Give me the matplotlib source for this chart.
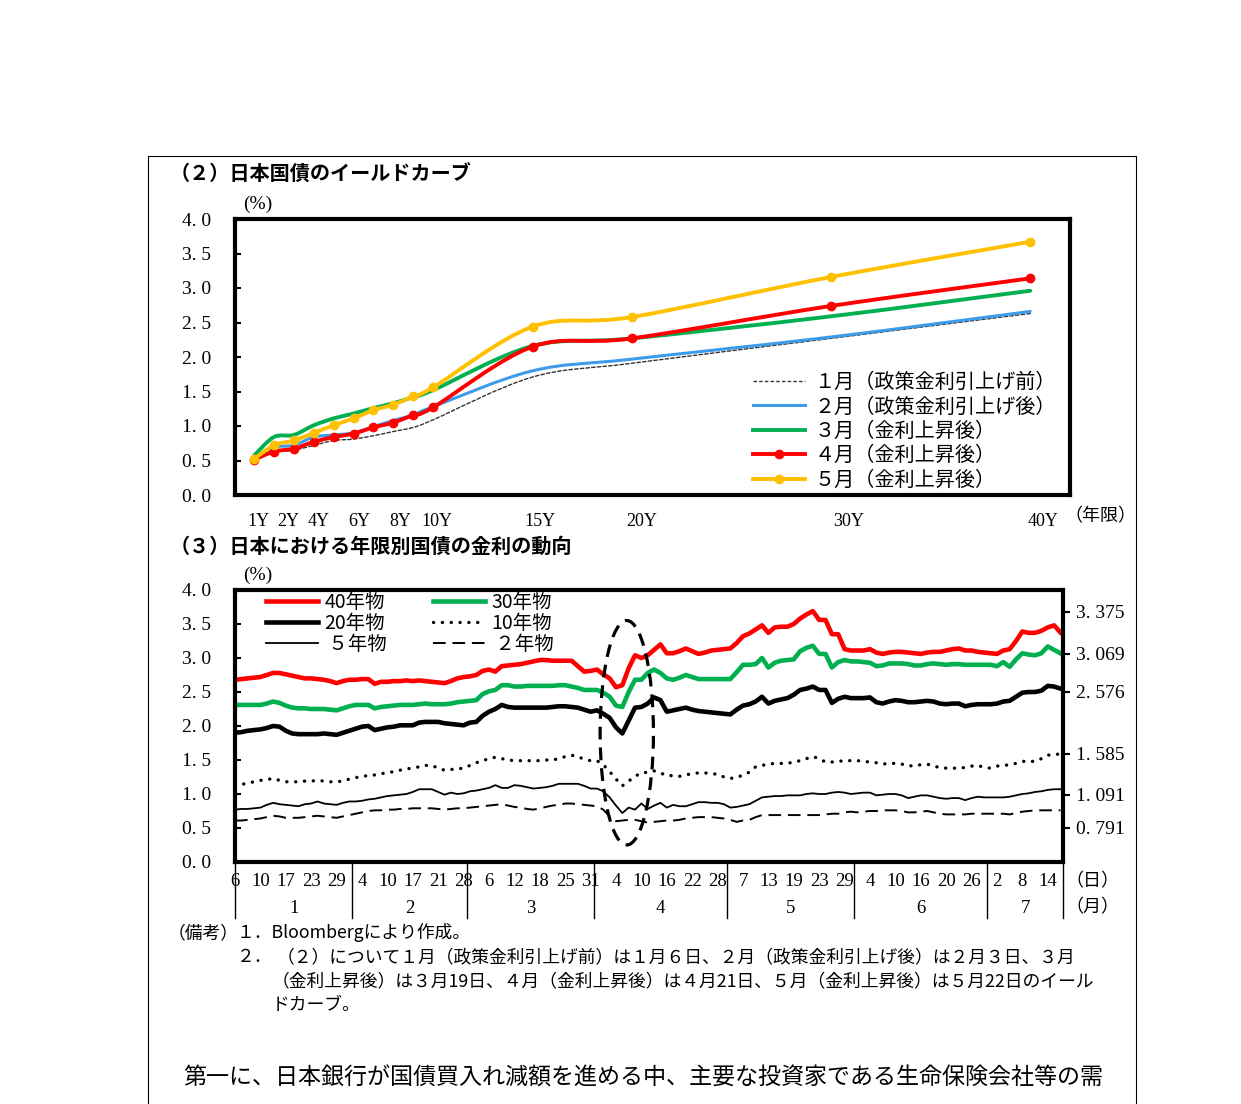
import numpy as np
import matplotlib.pyplot as plt
import matplotlib.transforms as mtransforms
from matplotlib.path import Path
from matplotlib.patches import PathPatch, Ellipse
from matplotlib.lines import Line2D

W, H = 1241, 1104
JP = ['Noto Sans CJK JP', 'DejaVu Sans']
SERIF = ['Liberation Serif', 'DejaVu Serif']

# ---------------------------------------------------------
# (2) yield curve data
# ---------------------------------------------------------
maturity = [1, 2, 3, 4, 5, 6, 7, 8, 9, 10, 15, 20, 30, 40]
curve_jan = [0.50, 0.62, 0.65, 0.72, 0.79, 0.81, 0.86, 0.92, 0.98, 1.09, 1.71, 1.91, 2.27, 2.63]
curve_feb = [0.52, 0.69, 0.72, 0.84, 0.87, 0.90, 0.99, 1.08, 1.16, 1.28, 1.80, 1.97, 2.29, 2.66]
curve_mar = [0.57, 0.84, 0.87, 1.01, 1.11, 1.18, 1.26, 1.33, 1.42, 1.52, 2.16, 2.27, 2.59, 2.96]
curve_apr = [0.51, 0.63, 0.67, 0.77, 0.84, 0.89, 0.98, 1.05, 1.16, 1.27, 2.15, 2.27, 2.74, 3.14]
curve_may = [0.52, 0.72, 0.79, 0.90, 1.01, 1.11, 1.23, 1.31, 1.43, 1.56, 2.44, 2.58, 3.16, 3.67]
curve_labels = ['１月（政策金利引上げ前）', '２月（政策金利引上げ後）', '３月（金利上昇後）',
                '４月（金利上昇後）', '５月（金利上昇後）']
mat_ticklabels = ['1Y', '2Y', '4Y', '6Y', '8Y', '10Y', '15Y', '20Y', '30Y', '40Y']
mat_tickpos = [1.2, 2.7, 4.25, 6.3, 8.35, 10.2, 15.35, 20.5, 30.85, 40.65]

# ---------------------------------------------------------
# (3) daily JGB yields, business days 2025/1/6 - 7/16
# ---------------------------------------------------------
jan_days = [6, 7, 8, 9, 10, 14, 15, 16, 17, 20, 21, 22, 23, 24, 27, 28, 29, 30, 31]
feb_days = [3, 4, 5, 6, 7, 10, 12, 13, 14, 17, 18, 19, 20, 21, 25, 26, 27, 28]
mar_days = [3, 4, 5, 6, 7, 10, 11, 12, 13, 14, 17, 18, 19, 21, 24, 25, 26, 27, 28, 31]
apr_days = [1, 2, 3, 4, 7, 8, 9, 10, 11, 14, 15, 16, 17, 18, 21, 22, 23, 24, 25, 28, 30]
may_days = [1, 2, 7, 8, 9, 12, 13, 14, 15, 16, 19, 20, 21, 22, 23, 26, 27, 28, 29, 30]
jun_days = [2, 3, 4, 5, 6, 9, 10, 11, 12, 13, 16, 17, 18, 19, 20, 23, 24, 25, 26, 27, 30]
jul_days = [1, 2, 3, 4, 7, 8, 9, 10, 11, 14, 15, 16]
month_days = [jan_days, feb_days, mar_days, apr_days, may_days, jun_days, jul_days]
month_names = ['1', '2', '3', '4', '5', '6', '7']

y40 = [2.68, 2.69, 2.70, 2.71, 2.72, 2.75, 2.78, 2.78, 2.76, 2.74, 2.72, 2.70, 2.70, 2.69, 2.68, 2.66, 2.63, 2.66, 2.68, 2.68,
       2.69, 2.69, 2.62, 2.65, 2.65, 2.66, 2.66, 2.67, 2.66, 2.67, 2.66, 2.65, 2.64, 2.63, 2.66, 2.70, 2.72, 2.73, 2.75, 2.81,
       2.83, 2.80, 2.88, 2.89, 2.90, 2.91, 2.93, 2.95, 2.97, 2.97, 2.96, 2.96, 2.96, 2.96, 2.88, 2.80, 2.81, 2.83, 2.76, 2.70,
       2.57, 2.60, 2.85, 3.04, 3.00, 3.04, 3.12, 3.20, 3.07, 3.07, 3.10, 3.14, 3.10, 3.06, 3.08, 3.11, 3.12, 3.13, 3.14, 3.22,
       3.32, 3.36, 3.42, 3.48, 3.37, 3.45, 3.46, 3.46, 3.50, 3.58, 3.64, 3.69, 3.56, 3.56, 3.35, 3.35, 3.13, 3.11, 3.11, 3.11,
       3.13, 3.08, 3.06, 3.08, 3.09, 3.09, 3.08, 3.07, 3.06, 3.08, 3.09, 3.09, 3.11, 3.13, 3.14, 3.11, 3.11, 3.09, 3.08, 3.07,
       3.06, 3.11, 3.13, 3.25, 3.39, 3.37, 3.37, 3.40, 3.45, 3.48, 3.375]
y30 = [2.31, 2.31, 2.31, 2.31, 2.31, 2.33, 2.36, 2.34, 2.30, 2.27, 2.26, 2.26, 2.25, 2.25, 2.25, 2.24, 2.23, 2.26, 2.29, 2.31,
       2.31, 2.31, 2.26, 2.28, 2.29, 2.30, 2.31, 2.31, 2.31, 2.32, 2.33, 2.32, 2.32, 2.32, 2.33, 2.35, 2.36, 2.37, 2.38, 2.47,
       2.51, 2.53, 2.60, 2.60, 2.58, 2.58, 2.59, 2.59, 2.59, 2.59, 2.59, 2.60, 2.60, 2.58, 2.56, 2.53, 2.53, 2.53, 2.49, 2.43,
       2.30, 2.28, 2.50, 2.68, 2.68, 2.78, 2.83, 2.78, 2.70, 2.68, 2.71, 2.75, 2.72, 2.69, 2.69, 2.69, 2.69, 2.69, 2.69, 2.79,
       2.90, 2.90, 2.91, 3.00, 2.86, 2.93, 2.96, 2.97, 2.98, 3.10, 3.15, 3.18, 3.06, 3.06, 2.86, 2.94, 2.97, 2.95, 2.95, 2.94,
       2.93, 2.88, 2.89, 2.92, 2.92, 2.92, 2.91, 2.89, 2.89, 2.91, 2.92, 2.91, 2.90, 2.91, 2.91, 2.90, 2.90, 2.90, 2.90, 2.90,
       2.88, 2.94, 2.87, 2.98, 3.07, 3.05, 3.04, 3.07, 3.17, 3.12, 3.069]
y20 = [1.90, 1.91, 1.93, 1.94, 1.95, 1.97, 2.00, 1.99, 1.93, 1.89, 1.88, 1.88, 1.88, 1.88, 1.89, 1.88, 1.87, 1.90, 1.93, 1.96,
       1.99, 2.00, 1.94, 1.96, 1.98, 1.99, 2.01, 2.01, 2.01, 2.05, 2.06, 2.06, 2.06, 2.04, 2.03, 2.02, 2.01, 2.05, 2.06, 2.15,
       2.21, 2.25, 2.31, 2.28, 2.27, 2.27, 2.27, 2.27, 2.27, 2.27, 2.28, 2.29, 2.29, 2.28, 2.27, 2.24, 2.21, 2.23, 2.18, 2.12,
       1.98, 1.89, 2.08, 2.27, 2.28, 2.33, 2.42, 2.38, 2.21, 2.23, 2.25, 2.27, 2.24, 2.22, 2.21, 2.20, 2.19, 2.18, 2.17, 2.24,
       2.30, 2.32, 2.36, 2.43, 2.33, 2.37, 2.39, 2.41, 2.46, 2.53, 2.55, 2.58, 2.53, 2.53, 2.34, 2.40, 2.43, 2.41, 2.41, 2.41,
       2.42, 2.35, 2.33, 2.36, 2.38, 2.37, 2.35, 2.35, 2.36, 2.37, 2.36, 2.33, 2.32, 2.33, 2.33, 2.29, 2.31, 2.32, 2.32, 2.32,
       2.33, 2.36, 2.37, 2.43, 2.49, 2.50, 2.50, 2.52, 2.59, 2.58, 2.55]
y10 = [1.12, 1.14, 1.16, 1.18, 1.20, 1.21, 1.23, 1.20, 1.18, 1.18, 1.18, 1.19, 1.19, 1.20, 1.19, 1.18, 1.18, 1.19, 1.22, 1.24,
       1.26, 1.27, 1.28, 1.30, 1.31, 1.33, 1.35, 1.37, 1.38, 1.40, 1.42, 1.42, 1.38, 1.35, 1.36, 1.37, 1.38, 1.42, 1.46, 1.49,
       1.52, 1.54, 1.52, 1.50, 1.49, 1.49, 1.49, 1.49, 1.49, 1.50, 1.50, 1.52, 1.55, 1.57, 1.55, 1.51, 1.49, 1.49, 1.43, 1.33,
       1.22, 1.12, 1.19, 1.26, 1.31, 1.32, 1.34, 1.31, 1.27, 1.27, 1.26, 1.28, 1.30, 1.31, 1.31, 1.30, 1.29, 1.25, 1.23, 1.24,
       1.28, 1.32, 1.40, 1.42, 1.44, 1.45, 1.45, 1.45, 1.47, 1.49, 1.52, 1.55, 1.52, 1.47, 1.47, 1.48, 1.49, 1.49, 1.49, 1.48,
       1.47, 1.46, 1.44, 1.45, 1.45, 1.44, 1.41, 1.42, 1.43, 1.44, 1.41, 1.39, 1.38, 1.38, 1.38, 1.39, 1.41, 1.42, 1.39, 1.38,
       1.41, 1.42, 1.43, 1.45, 1.48, 1.48, 1.48, 1.52, 1.57, 1.585, 1.585]
y5 = [0.77, 0.78, 0.78, 0.79, 0.80, 0.84, 0.87, 0.85, 0.84, 0.83, 0.82, 0.85, 0.86, 0.89, 0.86, 0.85, 0.84, 0.87, 0.89, 0.89,
      0.90, 0.92, 0.93, 0.95, 0.97, 0.98, 0.99, 1.00, 1.03, 1.07, 1.07, 1.07, 1.03, 0.99, 1.02, 1.00, 1.01, 1.04, 1.05, 1.07,
      1.09, 1.13, 1.09, 1.09, 1.13, 1.12, 1.10, 1.08, 1.09, 1.10, 1.12, 1.15, 1.15, 1.15, 1.15, 1.12, 1.08, 1.08, 1.04, 0.95,
      0.83, 0.72, 0.80, 0.77, 0.86, 0.78, 0.83, 0.87, 0.80, 0.84, 0.82, 0.82, 0.85, 0.88, 0.88, 0.87, 0.87, 0.85, 0.80, 0.81,
      0.83, 0.85, 0.90, 0.95, 0.96, 0.97, 0.97, 0.98, 0.98, 0.98, 1.00, 1.01, 1.00, 1.00, 1.02, 1.03, 1.02, 1.00, 1.01, 1.02,
      1.02, 0.98, 0.99, 1.00, 1.00, 0.98, 0.94, 0.96, 0.98, 0.98, 0.96, 0.94, 0.93, 0.94, 0.94, 0.91, 0.94, 0.96, 0.95, 0.95,
      0.95, 0.95, 0.96, 0.98, 1.00, 1.01, 1.03, 1.04, 1.06, 1.07, 1.07]
y2 = [0.61, 0.61, 0.62, 0.63, 0.64, 0.66, 0.68, 0.67, 0.65, 0.65, 0.65, 0.66, 0.67, 0.68, 0.67, 0.66, 0.65, 0.67, 0.69, 0.71,
      0.73, 0.75, 0.76, 0.76, 0.77, 0.77, 0.78, 0.78, 0.79, 0.79, 0.79, 0.79, 0.78, 0.77, 0.78, 0.79, 0.79, 0.80, 0.81, 0.82,
      0.83, 0.84, 0.85, 0.83, 0.81, 0.80, 0.78, 0.77, 0.79, 0.81, 0.83, 0.84, 0.86, 0.86, 0.85, 0.84, 0.83, 0.82, 0.77, 0.67,
      0.60, 0.61, 0.62, 0.62, 0.60, 0.58, 0.59, 0.60, 0.61, 0.61, 0.62, 0.64, 0.65, 0.66, 0.66, 0.66, 0.65, 0.64, 0.62, 0.59,
      0.61, 0.62, 0.66, 0.69, 0.69, 0.69, 0.69, 0.69, 0.69, 0.69, 0.69, 0.69, 0.69, 0.70, 0.71, 0.71, 0.73, 0.74, 0.73, 0.74,
      0.75, 0.75, 0.76, 0.76, 0.76, 0.75, 0.73, 0.73, 0.74, 0.75, 0.73, 0.71, 0.70, 0.70, 0.70, 0.70, 0.71, 0.71, 0.71, 0.71,
      0.71, 0.71, 0.70, 0.72, 0.74, 0.75, 0.76, 0.76, 0.76, 0.76, 0.76]
latest_labels = ['3. 375', '3. 069', '2. 576', '1. 585', '1. 091', '0. 791']
latest_label_pos = [3.68, 3.06, 2.50, 1.59, 0.99, 0.50]


def px(x, y):
    return x / W, 1 - y / H


def smooth_path(x, y):
    # Excel-like smoothed line (Catmull-Rom -> cubic Bezier)
    n = len(x)
    verts = [(x[0], y[0])]
    codes = [Path.MOVETO]
    for k in range(n - 1):
        xp, yp = (x[k - 1], y[k - 1]) if k > 0 else (x[k], y[k])
        xn, yn = (x[k + 2], y[k + 2]) if k + 2 < n else (x[k + 1], y[k + 1])
        verts.append((x[k] + (x[k + 1] - xp) / 6, y[k] + (y[k + 1] - yp) / 6))
        verts.append((x[k + 1] - (xn - x[k]) / 6, y[k + 1] - (yn - y[k]) / 6))
        verts.append((x[k + 1], y[k + 1]))
        codes += [Path.CURVE4] * 3
    return Path(verts, codes)


def style_frame(ax):
    for s in ax.spines.values():
        s.set_linewidth(3)
    ax.set_ylim(0, 4)
    ax.set_yticks(np.arange(0, 4.01, 0.5))
    ax.set_yticklabels(['%d. %d' % (int(v), round(v * 10) % 10) for v in np.arange(0, 4.01, 0.5)],
                       family=SERIF, fontsize=14)
    ax.tick_params(axis='y', direction='in', length=4, width=1.5, pad=17)


fig = plt.figure(figsize=(W / 100, H / 100), dpi=100)

# outer page frame
fig.add_artist(Line2D([148 / W, 148 / W, 1136 / W, 1136 / W], [0, 1 - 156 / H, 1 - 156 / H, 0],
                      transform=fig.transFigure, color='black', lw=0.8))

# ---------------------------------------------------------
# (2) yield curve
# ---------------------------------------------------------
l, b = px(235, 495)
ax1 = fig.add_axes([l, b, (1070 - 235) / W, (495 - 219) / H])
style_frame(ax1)
ax1.set_xlim(0.045, 42.0)

curve_styles = [
    (curve_jan, '#333333', 1.0, (0, (2.5, 1.6)), None),
    (curve_feb, '#3D9BE9', 2.2, '-', None),
    (curve_mar, '#00B050', 2.8, '-', None),
    (curve_apr, '#FF0000', 2.8, '-', 'o'),
    (curve_may, '#FFC000', 2.8, '-', 'o'),
]
handles = []
for (vals, col, lw, ls, mk), lab in zip(curve_styles, curve_labels):
    ax1.add_patch(PathPatch(smooth_path(maturity, vals), facecolor='none', edgecolor=col,
                            lw=lw, linestyle=ls, capstyle='round'))
    if mk:
        ax1.plot(maturity, vals, linestyle='none', marker=mk, color=col, markersize=6)
    handles.append(Line2D([], [], color=col, lw=lw, linestyle=ls, marker=mk, markersize=6))

ax1.set_xticks(mat_tickpos)
ax1.set_xticklabels(mat_ticklabels, family=SERIF, fontsize=13)
ax1.tick_params(axis='x', length=0, pad=13)
ax1.legend(handles, curve_labels, loc='upper left', bbox_to_anchor=px(753, 372),
           bbox_transform=fig.transFigure, frameon=False, prop={'family': JP, 'size': 14.5},
           handlelength=2.6, handletextpad=0.45, labelspacing=0.17, borderpad=0, borderaxespad=0)

fig.text(*px(170, 174), '（２）日本国債のイールドカーブ', family=JP, fontsize=14.5,
         fontweight='bold', va='center', ha='left')
fig.text(*px(258, 204), '(%)', family=SERIF, fontsize=14, va='center', ha='center')
fig.text(*px(1100, 516), '（年限）', family=JP, fontsize=13, va='center', ha='center')

# ---------------------------------------------------------
# (3) daily yields
# ---------------------------------------------------------
l, b = px(235, 862)
ax2 = fig.add_axes([l, b, (1063 - 235) / W, (862 - 590) / H])
style_frame(ax2)
idx = np.arange(len(y40))
ax2.set_xlim(0, 130.4)
ax2.set_xticks([])

series = [
    (y40, '40年物', dict(color='#FF0000', lw=3.3)),
    (y20, '20年物', dict(color='black', lw=3.3)),
    (y5, ' ５年物', dict(color='black', lw=1.3)),
    (y30, '30年物', dict(color='#00B050', lw=3.3)),
    (y10, '10年物', dict(color='black', lw=2.4, linestyle=(0, (0.05, 2.6)), dash_capstyle='round')),
    (y2, ' ２年物', dict(color='black', lw=1.4, linestyle=(0, (6.5, 3.5)))),
]
draw_order = [3, 0, 1, 4, 2, 5]
lines = {}
for k in draw_order:
    vals, lab, kw = series[k]
    lines[k], = ax2.plot(idx, vals, label=lab, **kw)
ax2.legend([lines[k] for k in range(6)], [s[1] for s in series], ncol=2,
           loc='upper left', bbox_to_anchor=px(264, 590), bbox_transform=fig.transFigure,
           frameon=False, prop={'family': JP, 'size': 14}, handlelength=2.7,
           handletextpad=0.3, labelspacing=0.0, columnspacing=2.35, borderpad=0.1, borderaxespad=0)

# dashed ellipse around the April dip
ax2.add_patch(Ellipse((61.7, 1.90), 8.4, 3.30, facecolor='none', edgecolor='black',
                      lw=2.3, linestyle=(0, (4, 2.5)), zorder=5))

# right-hand labels with latest values
axr = ax2.twinx()
axr.set_ylim(0, 4)
axr.set_yticks(latest_label_pos)
axr.set_yticklabels(latest_labels, family=SERIF, fontsize=14)
axr.tick_params(axis='y', direction='out', length=5, width=1.5, pad=4)
for s in axr.spines.values():
    s.set_visible(False)

# day / month labels under the axis
trans = mtransforms.blended_transform_factory(ax2.transData, ax2.transAxes)
bounds = [0]
for days in month_days:
    bounds.append(bounds[-1] + len(days))
for i in range(0, len(y40), 4):
    m = max(j for j in range(7) if bounds[j] <= i)
    ax2.text(i, -0.07, str(month_days[m][i - bounds[m]]), transform=trans, family=SERIF,
             fontsize=13.5, ha='center', va='center', clip_on=False)
sep = [0] + [b - 0.5 for b in bounds[1:-1]] + [130.4]
for x in sep:
    ax2.plot([x, x], [0, -0.205], transform=trans, color='black', lw=1.0, clip_on=False)
for j, m in enumerate(month_names):
    right = bounds[j + 1] - 0.5 if j < 6 else 130.4
    left = bounds[j] - 0.5 if j > 0 else 0
    ax2.text((left + right) / 2, -0.17, m, transform=trans, family=SERIF, fontsize=13.5,
             ha='center', va='center', clip_on=False)

fig.text(*px(170, 546), '（３）日本における年限別国債の金利の動向', family=JP, fontsize=14.5,
         fontweight='bold', va='center', ha='left')
fig.text(*px(258, 575), '(%)', family=SERIF, fontsize=14, va='center', ha='center')
fig.text(*px(1092, 881), '（日）', family=JP, fontsize=13, va='center', ha='center')
fig.text(*px(1092, 907), '（月）', family=JP, fontsize=13, va='center', ha='center')

# ---------------------------------------------------------
# notes and body text
# ---------------------------------------------------------
note_kw = dict(family=JP, fontsize=12.8, va='center', ha='left')
fig.text(*px(168, 933), '（備考）', **note_kw)
fig.text(*px(237, 933), '１．Bloombergにより作成。', **note_kw)
fig.text(*px(237, 957), '２．', **note_kw)
fig.text(*px(277, 957), '（２）について１月（政策金利引上げ前）は１月６日、２月（政策金利引上げ後）は２月３日、３月', **note_kw)
fig.text(*px(272, 981), '（金利上昇後）は３月19日、４月（金利上昇後）は４月21日、５月（金利上昇後）は５月22日のイール', **note_kw)
fig.text(*px(272, 1005), 'ドカーブ。', **note_kw)
fig.text(*px(183, 1078), '第一に、日本銀行が国債買入れ減額を進める中、主要な投資家である生命保険会社等の需',
         family=JP, fontsize=16.6, va='center', ha='left')

fig.savefig('out.png', dpi=100)
